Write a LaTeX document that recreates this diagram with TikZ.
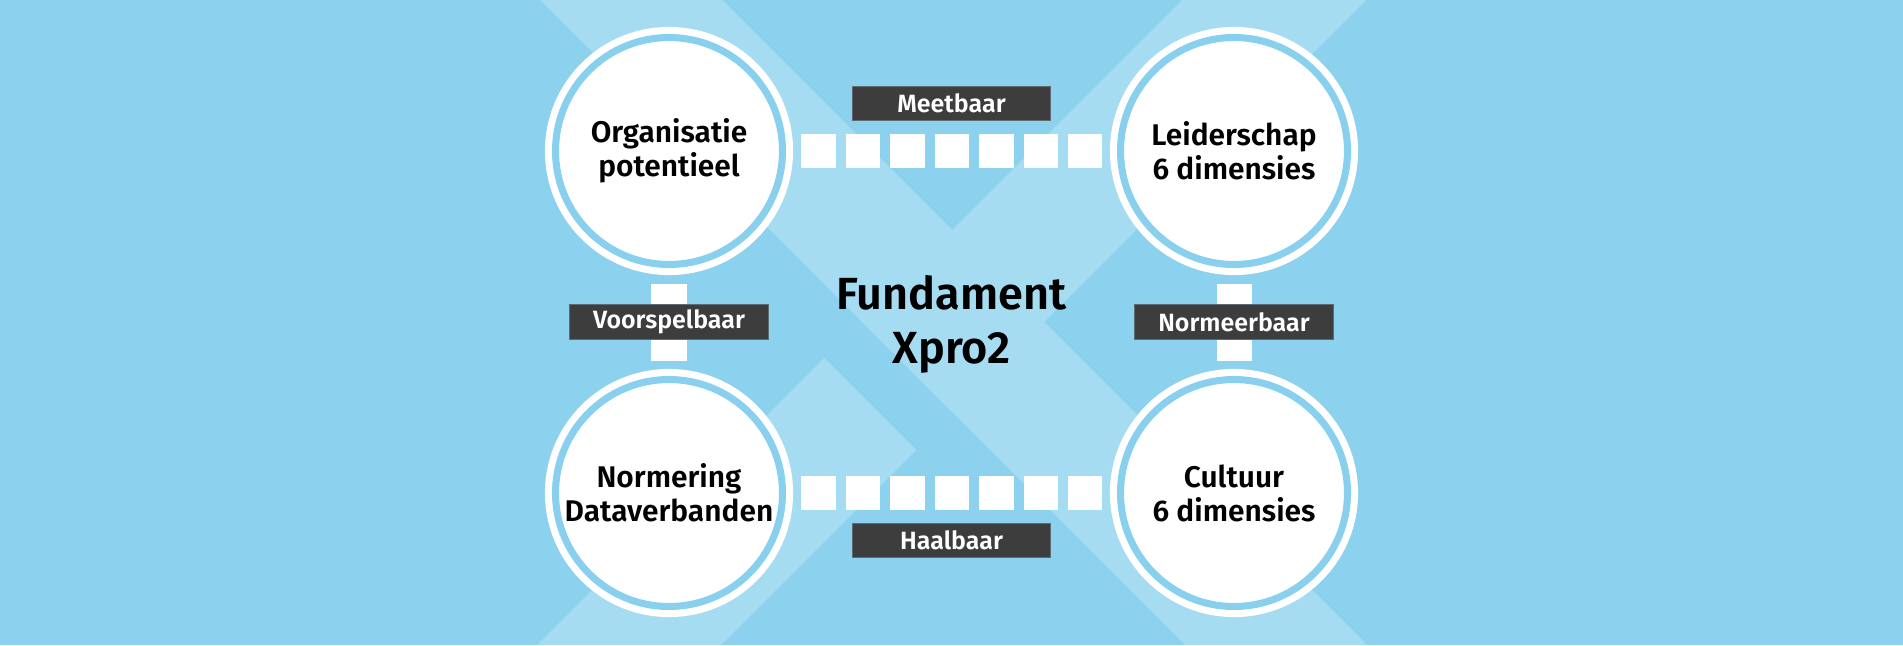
\documentclass[tikz,border=0pt]{standalone}
\usepackage{fontspec}
\setmainfont{Fira Sans}[BoldFont={Fira Sans SemiBold}]
\usetikzlibrary{positioning,calc}
\definecolor{bgB}{RGB}{140,209,237}
\definecolor{xB}{RGB}{166,220,242}
\definecolor{ringB}{RGB}{137,208,238}
\definecolor{lblF}{RGB}{61,61,61}
\definecolor{lblL}{RGB}{96,106,114}

\begin{document}
\begin{tikzpicture}[
  x=0.01cm, y=0.01cm,
  topic/.style={circle, fill=white, minimum size=2.48cm, inner sep=0pt, align=center, font=\fontsize{8.5}{9.7}\selectfont\bfseries},
  lbl/.style={fill=lblF, draw=lblL, line width=0.3pt, text=white, minimum width=1.98cm, minimum height=0.345cm, inner sep=0pt, font=\fontsize{7.1}{8}\selectfont\bfseries},
  ring/.style={draw=ringB, line width=2pt},
  squares/.style={draw=white, line width=0.345cm, dash pattern=on 0.343cm off 0.102cm, shorten <=0.075cm, shorten >=0.075cm},
  bar/.style={draw=white, line width=0.35cm, shorten <=0.08cm, shorten >=0.07cm},
]

% ---------- background X ----------
\fill[bgB] (0,0) rectangle (1903,-645);
\fill[xB] (1182,0) -- (1366,0) -- (953,-413) -- (861,-321) -- cycle;
\fill[xB] (824,-358) -- (916,-450) -- (721,-645) -- (537,-645) -- cycle;
\fill[xB] (540,0) -- (722,0) -- (1367,-645) -- (1185,-645) -- cycle;

% ---------- nodes ----------
\node[topic] (org) at (669,-151) {Organisatie\\potentieel};
\node[topic] (lei) at (1234,-151) {Leiderschap\\6 dimensies};
\node[topic] (norm) at (669,-493) {Normering\\Dataverbanden};
\node[topic] (cul) at (1234,-493) {Cultuur\\6 dimensies};
\foreach \n in {org,lei,norm,cul}
  \draw[ring] (\n.center) circle (113.5);

\node[align=center, font=\fontsize{12.8}{15.4}\selectfont\bfseries] (fund) at (951.5,-324) {Fundament\\Xpro2};

% ---------- links ----------
\draw[squares] (org) -- (lei);
\draw[squares] (norm) -- (cul);
\draw[bar] (org) -- (norm);
\draw[bar] (lei) -- (cul);

\node[lbl] (meet) at ($(org)!0.5!(lei)+(0,47.5)$) {Meetbaar};
\node[lbl] (haal) at ($(norm)!0.5!(cul)+(0,-47.5)$) {Haalbaar};
\node[lbl] (voor) at ($(org)!0.5!(norm)$) {Voorspelbaar};
\node[lbl] (normb) at ($(lei)!0.5!(cul)$) {Normeerbaar};

\end{tikzpicture}
\end{document}
